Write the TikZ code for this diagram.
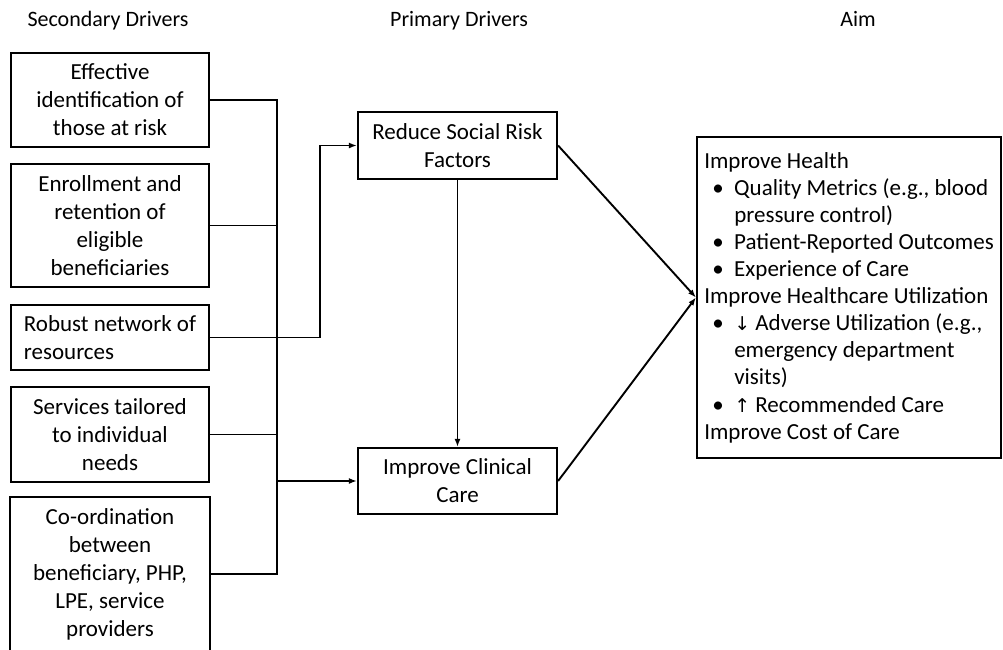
\documentclass[tikz,border=0pt]{standalone}
\usepackage{fontspec}
\setmainfont{Carlito}
\newfontfamily\arrowfont{DejaVu Sans}
\usetikzlibrary{arrows.meta}
\begin{document}
\begin{tikzpicture}[x=1pt,y=-1pt,
  every node/.style={font=\fontsize{23}{28}\selectfont, inner sep=0pt},
  sbox/.style={draw, line width=2.2pt, minimum width=198pt, align=center},
  pbox/.style={draw, line width=2.2pt, minimum width=199pt, align=center},
  hdr/.style={font=\fontsize{22}{26}\selectfont, anchor=base},
  conn/.style={line width=1.9pt},
  arr/.style={conn, -{Latex[length=8pt,width=6pt]}}
]
\useasboundingbox (0,0) rectangle (1003,649);
\fill[white] (0,0) rectangle (1003,649);
\begin{scope}
\clip (0,0) rectangle (1003,649);
% headers
\node[hdr] (h1) at (108,26) {Secondary Drivers};
\node[hdr] (h2) at (459,26) {Primary Drivers};
\node[hdr] (h3) at (858,26) {Aim};
% secondary drivers
\node[sbox, minimum height=94pt] (b1) at (110,100) {Effective\\identification of\\those at risk};
\node[sbox, minimum height=123pt] (b2) at (110,225.5) {Enrollment and\\retention of\\eligible\\beneficiaries};
\node[sbox, minimum height=65pt, align=left] (b3) at (110,337.5) {Robust network of\\resources};
\node[sbox, minimum height=95pt] (b4) at (110,434.5) {Services tailored\\to individual\\needs};
\node[sbox, draw=none, minimum height=152pt] (b5) at (110,574) {Co-ordination\\between\\beneficiary, PHP,\\LPE, service\\providers};
\draw[line width=2.2pt] (b5.north west) rectangle ([yshift=-14pt]b5.south east);
% primary drivers
\node[pbox, minimum height=67pt] (rsrf) at (457.5,145.5) {Reduce Social Risk\\Factors};
\node[pbox, minimum height=66pt] (icc) at (457.5,481) {Improve Clinical\\Care};
% aim
\node[draw, line width=2.2pt, minimum width=304pt, minimum height=321pt, align=left,
      font=\fontsize{23}{27.1}\selectfont] (aim) at (849,297.5) {%
Improve Health\\
\hspace*{8pt}\makebox[22pt][l]{•}Quality Metrics (e.g., blood\\
\hspace*{30pt}pressure control)\\
\hspace*{8pt}\makebox[22pt][l]{•}Patient-Reported Outcomes\\
\hspace*{8pt}\makebox[22pt][l]{•}Experience of Care\\
Improve Healthcare Utilization\\
\hspace*{8pt}\makebox[22pt][l]{•}{\arrowfont\fontsize{19}{27.1}\selectfont↓} Adverse Utilization (e.g.,\\
\hspace*{30pt}emergency department\\
\hspace*{30pt}visits)\\
\hspace*{8pt}\makebox[22pt][l]{•}{\arrowfont\fontsize{19}{27.1}\selectfont↑} Recommended Care\\
Improve Cost of Care};
% bus
\coordinate (bus) at (277,0);
\coordinate (knee) at (320,0);
\draw[conn] (b1.east) -- (b1.east -| bus) -- (b5.east -| bus) -- (b5.east);
\draw[conn] (b2.east) -- (b2.east -| bus);
\draw[conn] (b4.east) -- (b4.east -| bus);
\draw[arr] (icc.west -| bus) -- (icc.west);
\draw[arr] (b3.east) -- (b3.east -| knee) |- (rsrf.west);
\draw[arr] (rsrf.south) -- (icc.north);
\draw[arr] (rsrf.east) -- (aim.west);
\draw[arr] (icc.east) -- (aim.west);
\end{scope}
\end{tikzpicture}
\end{document}
